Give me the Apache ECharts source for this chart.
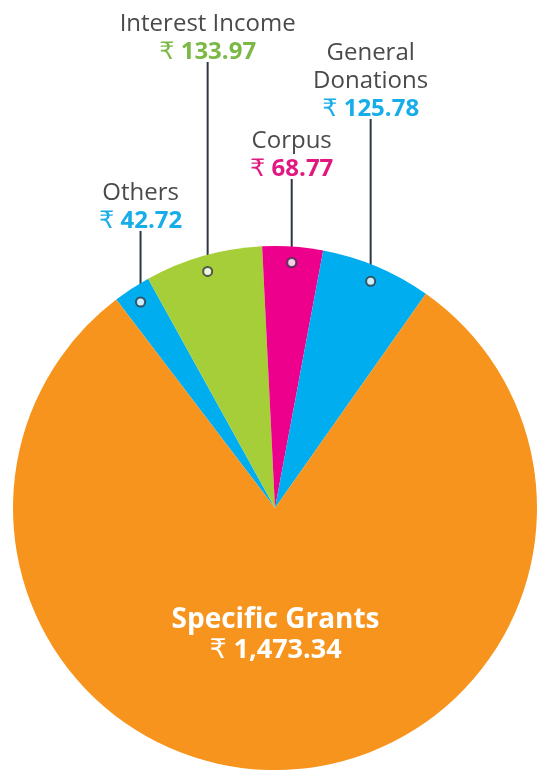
<!DOCTYPE html>
<html><head><meta charset="utf-8">
<script src="https://cdn.jsdelivr.net/npm/echarts@6/dist/echarts.min.js"></script>
<style>html,body{margin:0;padding:0;background:#fff}#c{width:537px;height:770px}</style>
</head><body><div id="c"></div>
<script>
// ---- data ----
var categories = ['Others', 'Interest Income', 'Corpus', 'General Donations', 'Specific Grants'];
var values = [42.72, 133.97, 68.77, 125.78, 1473.34];
var currency = '\u20B9';
var labelNames = ['Others', 'Interest Income', 'Corpus', 'General\nDonations', 'Specific Grants'];

// ---- styles / layout ----
var sliceColors = ['#00aeef', '#a6ce39', '#ec008c', '#00aeef', '#f7941d'];
var valueColors = ['#17ade8', '#7cb846', '#e2177f', '#17ade8', '#ffffff'];
var labelValueY = [221, 52, 169, 109];
var CX = 275, CY = 508, R = 262, DOT_R = 246, START = 127.3;
var FONT = '"Open Sans", "DejaVu Sans", sans-serif';

function num(v) {
  return v.toLocaleString('en-US', {minimumFractionDigits: 2, maximumFractionDigits: 2});
}
var total = values.reduce(function (a, b) { return a + b; }, 0);

var mainData = categories.map(function (c, i) {
  var d = {name: c, value: values[i], itemStyle: {color: sliceColors[i]}};
  if (i === 4) {
    d.label = {
      show: true, position: 'inside', offset: [-2, -7],
      formatter: '{n|' + labelNames[i] + '}\n{c|' + currency + ' }{v|' + num(values[i]) + '}',
      rich: {
        n: {fontFamily: FONT, fontWeight: 'bold', fontSize: 28, color: '#fff', lineHeight: 30},
        c: {fontFamily: FONT, fontWeight: 'normal', fontSize: 27, color: '#fff', lineHeight: 30},
        v: {fontFamily: FONT, fontWeight: 'bold', fontSize: 27, color: '#fff', lineHeight: 30}
      }
    };
  } else {
    d.label = {show: false};
  }
  return d;
});

var overlayData = categories.map(function (c, i) {
  var d = {name: c, value: values[i], itemStyle: {color: 'rgba(0,0,0,0)'}};
  if (i === 4) { d.label = {show: false}; d.labelLine = {show: false}; }
  else {
    d.label = {
      show: true, position: 'outside',
      formatter: '{n|' + labelNames[i] + '}\n{c|' + currency + ' }{v|' + num(values[i]) + '}',
      rich: {
        n: {fontFamily: FONT, fontSize: 24, color: '#4a4a4a', lineHeight: 28},
        c: {fontFamily: FONT, fontSize: 24, color: valueColors[i], lineHeight: 28},
        v: {fontFamily: FONT, fontWeight: 'bold', fontSize: 24, color: valueColors[i], lineHeight: 28}
      }
    };
  }
  return d;
});

// dot positions: mid-angle of each slice (polar value axis)
var cum = 0, dots = [];
values.forEach(function (v, i) {
  if (i < 4) dots.push([DOT_R, cum + v / 2]);
  cum += v;
});

var chart = echarts.init(document.getElementById('c'), null, {renderer: 'canvas'});
chart.setOption({
  animation: false,
  backgroundColor: '#ffffff',
  polar: {center: [CX, CY], radius: R},
  angleAxis: {type: 'value', min: 0, max: total, startAngle: START, clockwise: true, show: false},
  radiusAxis: {type: 'value', min: 0, max: R, show: false},
  series: [
    {
      type: 'pie', center: [CX, CY], radius: R, startAngle: START, clockwise: true,
      silent: true, avoidLabelOverlap: false, emphasis: {disabled: true},
      data: mainData, labelLine: {show: false}
    },
    {
      type: 'pie', center: [CX, CY], radius: DOT_R, startAngle: START, clockwise: true,
      silent: true, avoidLabelOverlap: false, emphasis: {disabled: true},
      data: overlayData,
      labelLine: {show: true, length: 10, length2: 10, lineStyle: {color: '#2e3642', width: 2}},
      labelLayout: function (p) {
        var i = p.dataIndex;
        if (i > 3 || !p.labelLinePoints) return {};
        var pt = p.labelLinePoints[0];
        var vy = labelValueY[i];
        return {
          x: pt[0], y: vy + 14, align: 'center', verticalAlign: 'bottom',
          labelLinePoints: [pt, [pt[0], vy + 10]]
        };
      }
    },
    {
      type: 'scatter', coordinateSystem: 'polar', silent: true, z: 10,
      symbol: 'circle', symbolSize: 9,
      itemStyle: {color: '#ffffff', borderColor: '#2e3642', borderWidth: 2},
      data: dots
    }
  ]
});
</script>
</body></html>
